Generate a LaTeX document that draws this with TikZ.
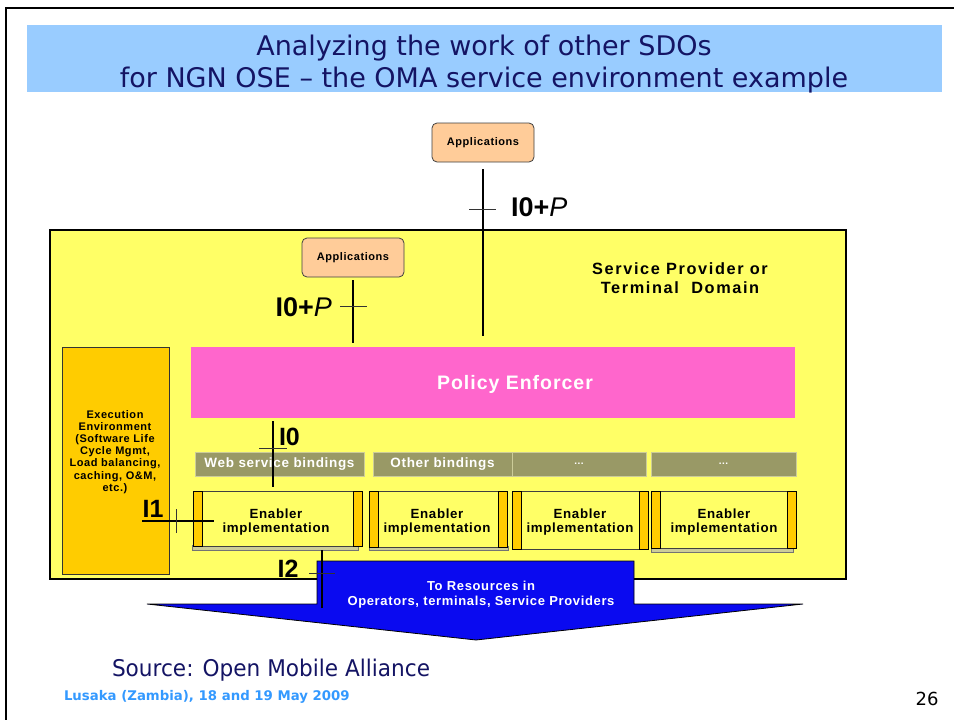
\documentclass[tikz,border=0pt]{standalone}
\usepackage{fontspec}
\newfontfamily\dfont{Liberation Sans}[LetterSpace=5]
\newfontfamily\dwfont{Liberation Sans}[LetterSpace=10]
\newfontfamily\lfont{Liberation Sans}
\newfontfamily\tfont{DejaVu Sans}
\newfontfamily\sfont{DejaVu Sans}[FakeStretch=0.94]
\definecolor{titlebg}{HTML}{99CCFF}
\definecolor{navy}{RGB}{20,20,100}
\definecolor{yel}{HTML}{FFFF66}
\definecolor{peach}{HTML}{FFCC99}
\definecolor{pinkpe}{HTML}{FF66CC}
\definecolor{orng}{HTML}{FFCC00}
\definecolor{olivegr}{HTML}{999966}
\definecolor{beige}{HTML}{CCCC99}
\definecolor{arblue}{RGB}{10,10,240}
\definecolor{lusblue}{HTML}{3399FF}
\tikzset{
  rect/.style={anchor=north west, inner sep=0pt, outer sep=0pt},
  dtxt/.style={inner sep=0pt, outer sep=0pt},
  app/.style={rect, fill=peach, draw=black!75, line width=0.8pt, rounded corners=5pt,
    minimum width=102pt, minimum height=39pt, font={\dfont\bfseries\fontsize{11}{13}\selectfont}},
  bind/.style={rect, fill=olivegr, draw=beige, line width=0.8pt, minimum height=24pt,
    text=white, font={\dfont\bfseries\fontsize{13.5}{15}\selectfont}},
  enbody/.style={rect, fill=yel, draw=black!75, line width=0.9pt},
  enbar/.style={rect, fill=orng, draw=black, line width=0.8pt, minimum width=9pt},
  ensh/.style={rect, fill=beige, draw=black!55, line width=0.6pt},
  entxt/.style={dtxt, align=center, font={\dfont\bfseries\fontsize{13.3}{14.5}\selectfont}},
  ilab/.style={dtxt, font={\lfont\fontsize{27}{27}\selectfont}},
  wire/.style={line width=1.3pt, draw=black},
  tick/.style={line width=1pt, draw=black!80},
  ttl/.style={dtxt, text=navy, font={\tfont\fontsize{27}{30}\selectfont}}
}
\begin{document}
\begin{tikzpicture}[x=1pt,y=-1pt]
\useasboundingbox (0,0) rectangle (954,720);
\fill[white] (0,0) rectangle (954,720);
% slide frame
\draw[line width=2pt] (6,721) -- (6,8) -- (955,8);
% title
\fill[titlebg] (27,25) rectangle (942,92);
\node[ttl] (title1) at (484,48) {Analyzing the work of other SDOs};
\node[ttl] (title2) at (484,80) {for NGN OSE – the OMA service environment example};
% top applications
\node[app] (appTop) at (432,123) {Applications};
% domain
\node[rect, fill=yel, draw=black, line width=1.4pt, minimum width=796pt, minimum height=349pt] (domain) at (50,230) {};
\node[app] (appIn) at (302,238) {Applications};
\node[dtxt, align=center, font={\dwfont\bfseries\fontsize{16.3}{19}\selectfont}] (sp) at (680,278) {Service Provider or\\Terminal\ \ Domain};
\node[rect, fill=pinkpe, minimum width=604pt, minimum height=71pt] (policy) at (191,347) {};
\node[dtxt, text=white, font={\dfont\bfseries\fontsize{19.5}{22}\selectfont}] (policyt) at (515,384) {Policy Enforcer};
\node[rect, fill=orng, draw=black!80, line width=0.8pt, minimum width=107pt, minimum height=227pt] (exec) at (62,347) {};
\node[dtxt, align=center, font={\dfont\bfseries\fontsize{11}{12.1}\selectfont}] (exectext) at (115,452)
  {Execution\\Environment\\(Software Life\\Cycle Mgmt,\\Load balancing,\\caching, O\&M,\\etc.)};
% bindings
\node[bind, minimum width=169pt] (b1) at (195,452) {Web service bindings};
\node[bind, minimum width=139pt] (b2) at (373,452) {Other bindings};
\node[bind, minimum width=134pt, font={\dfont\bfseries\fontsize{10}{12}\selectfont}] (b3) at (512,452) {...};
\node[bind, minimum width=145pt, font={\dfont\bfseries\fontsize{10}{12}\selectfont}] (b4) at (651,452) {...};
% enabler 1
\node[ensh, minimum width=166pt, minimum height=5pt] (en1s) at (192,545) {};
\node[enbody, minimum width=169pt, minimum height=55pt] (en1) at (193,491) {};
\node[enbar, minimum height=55pt] (en1l) at (193,491) {};
\node[enbar, minimum height=55pt] (en1r) at (353,491) {};
\node[entxt] (en1t) at (276,522) {Enabler\\implementation};
% enabler 2
\node[ensh, minimum width=139pt, minimum height=4pt] (en2s) at (369,546) {};
\node[enbody, minimum width=138pt, minimum height=56pt] (en2) at (369,491) {};
\node[enbar, minimum height=56pt] (en2l) at (369,491) {};
\node[enbar, minimum height=56pt] (en2r) at (498,491) {};
\node[entxt] (en2t) at (437,522) {Enabler\\implementation};
% enabler 3
\node[enbody, minimum width=136pt, minimum height=58pt] (en3) at (512,491) {};
\node[enbar, minimum height=58pt] (en3l) at (512,491) {};
\node[enbar, minimum height=58pt] (en3r) at (639,491) {};
\node[entxt] (en3t) at (580,522) {Enabler\\implementation};
% enabler 4
\node[ensh, minimum width=142pt, minimum height=4pt] (en4s) at (651,548) {};
\node[enbody, minimum width=145pt, minimum height=57pt] (en4) at (651,491) {};
\node[enbar, minimum height=57pt] (en4l) at (651,491) {};
\node[enbar, minimum height=57pt] (en4r) at (787,491) {};
\node[entxt] (en4t) at (724,522) {Enabler\\implementation};
% reference points I0+P
\draw[wire, shorten <=7pt, shorten >=11pt] (appTop.south) -- (appTop.south |- policy.north);
\coordinate (tA) at (482,209);
\draw[tick] ([xshift=-13pt]tA) -- ([xshift=14pt]tA);
\node[ilab, anchor=west] (lA) at (511,207) {\bfseries I0+\mdseries\itshape P};
\draw[wire, shorten <=3pt, shorten >=4pt] (appIn.south) -- (appIn.south |- policy.north);
\coordinate (tB) at (353,306);
\draw[tick] ([xshift=-13pt]tB) -- ([xshift=14pt]tB);
\node[ilab, anchor=east] (lB) at (332,307) {\bfseries I0+\mdseries\itshape P};
% I0
\coordinate (c0) at (273,448);
\draw[wire, shorten <=3pt, shorten >=4pt] (c0 |- policy.south) -- (c0 |- en1.north);
\draw[tick] ([xshift=-14pt]c0) -- ([xshift=14pt]c0);
\node[ilab, font={\lfont\bfseries\fontsize{25}{25}\selectfont}, anchor=west] (l0) at (279,437) {I0};
% I1
\coordinate (c1) at (176,521);
\draw[wire] ([xshift=-34pt]c1) -- ([xshift=38pt]c1);
\draw[tick] ([yshift=12pt]c1) -- ([yshift=-12pt]c1);
\node[ilab, font={\lfont\bfseries\fontsize{25}{25}\selectfont}] (l1) at (153,509) {I1};
% resources arrow
\filldraw[fill=arblue, draw=black, line width=0.8pt] (317,561) -- (634,561) -- (634,604) -- (803,604)
  -- (476,640) -- (147,604) -- (317,604) -- cycle;
\node[dtxt, align=center, text=white, font={\dfont\bfseries\fontsize{13}{15}\selectfont}] (res) at (481,595)
  {To Resources in\\Operators, terminals, Service Providers};
% I2
\coordinate (c2) at (322,573);
\draw[wire] (c2 |- en1s.south) -- ([yshift=-35pt]c2);
\draw[tick] ([xshift=-13pt]c2) -- ([xshift=13pt]c2);
\node[ilab, font={\lfont\bfseries\fontsize{25}{25}\selectfont}] (l2) at (288,569) {I2};
% footer
\node[dtxt, anchor=west, text=navy, font={\sfont\fontsize{23}{26}\selectfont}] (src) at (112,670) {Source: Open Mobile Alliance};
\node[dtxt, anchor=west, text=lusblue, font={\tfont\bfseries\fontsize{13.3}{15}\selectfont}] (lus) at (64,697) {Lusaka (Zambia), 18 and 19 May 2009};
\node[dtxt, font={\tfont\fontsize{18}{20}\selectfont}] (pg) at (927,699) {26};
\end{tikzpicture}
\end{document}
